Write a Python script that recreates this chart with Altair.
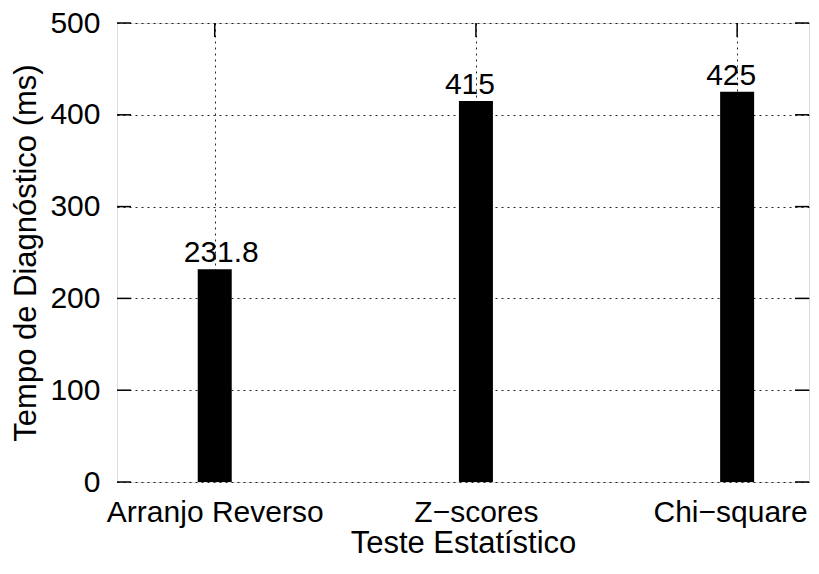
import altair as alt
import pandas as pd

categories = ["Arranjo Reverso", "Z\u2212scores", "Chi\u2212square"]
values = [231.8, 415, 425]
value_labels = ["231.8", "415", "425"]
y_ticks = [0, 100, 200, 300, 400, 500]

df = pd.DataFrame({"pos": list(range(len(categories))), "cat": categories,
                   "val": values, "lab": value_labels})
yt = pd.DataFrame({"y": y_ticks})
xt = pd.DataFrame({"pos": list(range(len(categories)))})

W, H = 692, 459
FONT = "Liberation Sans"
FS = 30
TFS = 31
xscale = alt.Scale(domain=[-0.355, 2.256], nice=False, zero=False)
yscale = alt.Scale(domain=[0, 500], nice=False)

label_expr = "[" + ",".join("'%s'" % c for c in categories) + "][datum.value]"

common = dict(grid=True, gridDash=[2, 4], gridColor="black", gridWidth=1, gridOpacity=0.85,
              tickSize=0, domain=False, labelFontSize=FS, titleFontSize=TFS, labelLimit=0,
              labelFont=FONT, titleFont=FONT, labelColor="black", titleColor="black",
              titleFontWeight="normal")

x_enc = alt.X("pos:Q", scale=xscale,
              axis=alt.Axis(values=[0, 1, 2], labelExpr=label_expr, title="Teste Estatístico",
                            labelPadding=15, titlePadding=1,
                            labelOffset={"condition": {"test": "datum.value == 2", "value": -7},
                                         "value": 0},
                            **common))
y_enc = alt.Y("val:Q", scale=yscale,
              axis=alt.Axis(values=y_ticks, title="Tempo de Diagnóstico (ms)",
                            labelPadding=17, titlePadding=7, **common))

bars = alt.Chart(df).mark_bar(size=34, color="black").encode(x=x_enc, y=y_enc)
text = alt.Chart(df).mark_text(baseline="alphabetic", align="left", dx=-31, dy=-7,
                               fontSize=FS, font=FONT, color="black").encode(
    x=alt.X("pos:Q", scale=xscale), y=alt.Y("val:Q", scale=yscale), text="lab:N")

tl = 14
left_ticks = alt.Chart(yt).mark_rule(color="black", strokeWidth=1.5).encode(
    y=alt.Y("y:Q", scale=yscale), x=alt.value(0), x2=alt.value(tl))
right_ticks = alt.Chart(yt).mark_rule(color="black", strokeWidth=1.5).encode(
    y=alt.Y("y:Q", scale=yscale), x=alt.value(W - tl), x2=alt.value(W))
top_ticks = alt.Chart(xt).mark_rule(color="black", strokeWidth=1.5).encode(
    x=alt.X("pos:Q", scale=xscale), y=alt.value(0), y2=alt.value(tl))
bot_ticks = alt.Chart(xt).mark_rule(color="black", strokeWidth=1.5).encode(
    x=alt.X("pos:Q", scale=xscale), y=alt.value(H - tl), y2=alt.value(H))

chart = alt.layer(bars, text, left_ticks, right_ticks, top_ticks, bot_ticks).properties(
    width=W, height=H,
    autosize=alt.AutoSizeParams(type="none"),
    padding={"left": 109, "top": 15, "right": 2, "bottom": 76},
).configure_view(stroke="black", strokeWidth=2).configure(background="white")

chart.save("out.html", embed_options={"renderer": "svg", "actions": False})
